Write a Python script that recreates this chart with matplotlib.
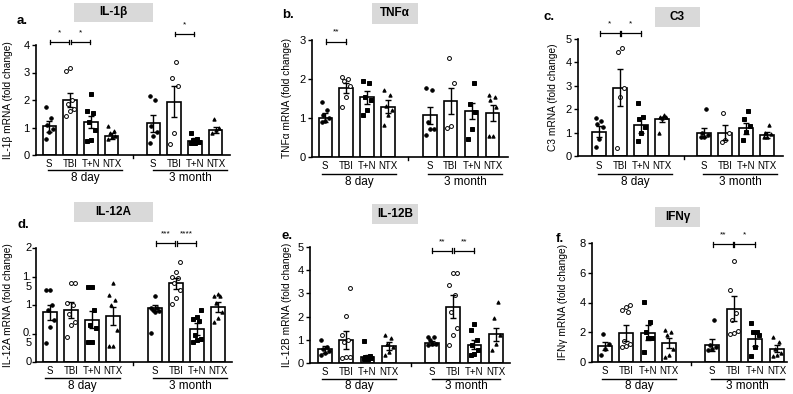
"""
qPCR panels: cytokine mRNA fold change, 8 day and 3 month.
"""

import numpy as np
import matplotlib.pyplot as plt
from matplotlib.patches import Rectangle
from matplotlib.transforms import ScaledTranslation

plt.rcParams['font.family'] = ['Liberation Sans', 'DejaVu Sans']

groups = ['S', 'TBI', 'T+N', 'NTX']
timepoints = ['8 day', '3 month']

# bar order: 8 day S, TBI, T+N, NTX, then 3 month S, TBI, T+N, NTX
il1b_mean = [1.05, 2.0, 1.2, 0.69, 1.15, 1.94, 0.52, 0.91]
il1b_sem = [0.2, 0.26, 0.22, 0.1, 0.3, 0.57, 0.09, 0.11]
il1b_pts = [[1.73, 1.33, 1.1, 0.93, 0.85, 0.57],
            [3.18, 3.05, 2.0, 1.84, 1.66, 1.6, 1.42],
            [2.22, 1.61, 1.52, 1.21, 0.91, 0.55, 0.52],
            [1.05, 0.88, 0.79, 0.69, 0.64, 0.57],
            [2.15, 2.0, 1.05, 0.85, 0.69, 0.42],
            [3.39, 2.79, 2.51, 0.81, 0.4],
            [0.81, 0.6, 0.55, 0.48, 0.45, 0.42],
            [1.31, 0.97, 0.91, 0.79]]

tnfa_mean = [1.01, 1.76, 1.53, 1.29, 1.07, 1.44, 1.18, 1.13]
tnfa_sem = [0.12, 0.13, 0.17, 0.17, 0.22, 0.34, 0.2, 0.2]
tnfa_pts = [[1.42, 1.2, 1.08, 1.0, 0.92, 0.9],
            [2.04, 2.01, 1.95, 1.82, 1.54, 1.27],
            [1.95, 1.89, 1.54, 1.46, 1.2, 1.07],
            [1.73, 1.59, 1.3, 1.2, 1.07, 0.81],
            [1.78, 1.73, 0.9, 0.73, 0.71, 0.56],
            [2.55, 1.89, 0.79, 0.75],
            [1.9, 1.37, 1.16, 0.73, 0.47],
            [1.59, 1.53, 1.46, 1.29, 0.53, 0.53]]

c3_mean = [1.04, 2.92, 1.32, 1.57, 1.0, 1.0, 1.18, 0.9]
c3_sem = [0.23, 0.78, 0.32, 0.1, 0.19, 0.32, 0.25, 0.12]
c3_pts = [[1.61, 1.51, 1.37, 1.25, 0.71, 0.4],
          [4.6, 4.45, 2.89, 2.54, 0.33],
          [2.25, 1.65, 1.57, 1.25, 0.97, 0.66],
          [1.75, 1.68, 1.65, 1.63, 0.97],
          [1.99, 1.0, 0.9, 0.83, 0.8],
          [1.85, 0.99, 0.68, 0.61],
          [1.92, 1.57, 1.28, 1.04, 0.68],
          [1.32, 0.97, 0.95, 0.83, 0.8]]

il12a_mean = [0.87, 0.91, 0.74, 0.81, 0.95, 1.38, 0.58, 0.97]
il12a_sem = [0.13, 0.14, 0.15, 0.16, 0.05, 0.1, 0.1, 0.09]
il12a_pts = [[1.26, 1.26, 1.0, 0.91, 0.74, 0.62, 0.34],
             [1.39, 1.39, 1.03, 1.0, 0.85, 0.71, 0.65, 0.44],
             [1.31, 1.31, 0.91, 0.65, 0.6, 0.35, 0.35],
             [1.38, 1.18, 1.09, 1.0, 0.56, 0.28, 0.28],
             [1.16, 0.95, 0.94, 0.91, 0.89, 0.87, 0.51],
             [1.75, 1.58, 1.5, 1.48, 1.38, 1.26, 1.13, 1.01],
             [0.92, 0.79, 0.76, 0.72, 0.47, 0.41, 0.38, 0.35],
             [1.19, 1.16, 1.16, 1.03, 0.88, 0.78, 0.71]]

il12b_mean = [0.59, 0.98, 0.26, 0.74, 0.87, 2.43, 0.79, 1.23]
il12b_sem = [0.16, 0.38, 0.1, 0.18, 0.09, 0.5, 0.18, 0.3]
il12b_pts = [[0.98, 0.69, 0.62, 0.5, 0.45, 0.36],
             [3.25, 2.04, 1.2, 0.98, 0.91, 0.26, 0.24, 0.22],
             [0.95, 0.3, 0.26, 0.22, 0.19, 0.16],
             [1.2, 1.08, 0.84, 0.69, 0.48, 0.33],
             [1.13, 1.13, 0.98, 0.84, 0.8, 0.77],
             [3.87, 3.87, 3.37, 2.93, 2.18, 1.49, 1.2, 0.79],
             [1.66, 1.42, 0.98, 0.77, 0.55, 0.4, 0.33],
             [2.62, 1.95, 1.2, 0.84, 0.55]]

ifng_mean = [1.08, 1.97, 1.97, 1.28, 1.12, 3.59, 1.52, 0.9]
ifng_sem = [0.24, 0.53, 0.5, 0.31, 0.4, 0.84, 0.42, 0.25]
ifng_pts = [[1.91, 1.23, 0.9, 0.49],
            [3.86, 3.7, 3.48, 3.36, 1.39, 1.23, 1.08, 1.01],
            [4.04, 2.69, 2.02, 1.61, 1.58, 0.67],
            [2.13, 2.02, 1.79, 0.9, 0.49, 0.34],
            [2.8, 1.12, 1.0, 0.9, 0.78],
            [6.77, 4.82, 3.32, 2.8, 2.06, 1.97, 1.91],
            [2.65, 2.02, 2.0, 1.84, 1.01, 0.4],
            [1.68, 1.35, 0.9, 0.63, 0.45, 0.42]]

# significance brackets: (bar i, bar j, height, label)
il1b_sig = [(0, 1, 4.1, '*'), (1, 2, 4.1, '*'), (5, 6, 4.39, '*')]
tnfa_sig = [(0, 1, 2.96, '**')]
c3_sig = [(0, 1, 5.24, '*'), (1, 2, 5.24, '*')]
il12a_sig = [(4, 5, 2.08, '***'), (5, 6, 2.08, '****')]
il12b_sig = [(4, 5, 4.84, '**'), (5, 6, 4.84, '**')]
ifng_sig = [(4, 5, 7.9, '**'), (5, 6, 7.9, '*')]

W, H = 793, 394
fig = plt.figure(figsize=(W / 100, H / 100), dpi=100)

# layout in pixels of the reference
panels = [
    dict(mean=il1b_mean, sem=il1b_sem, pts=il1b_pts, sig=il1b_sig,
         title='IL-1β', ylabel='IL-1β mRNA (fold change)', letter='a.',
         spine=36, right=230, y0=155, ytop=45, ymax=4, yticks=[0, 1, 2, 3, 4],
         p0=49.3, s=20.8, brk=133,
         tick_y=164, line_y=170, grp_y=178, lines=[(48, 122), (153, 227)],
         box=(74, 153, 3, 22), let_xy=(17, 21), ylab_x=8),
    dict(mean=tnfa_mean, sem=tnfa_sem, pts=tnfa_pts, sig=tnfa_sig,
         title='TNFα', ylabel='TNFα mRNA (fold change)', letter='b.',
         spine=312, right=508, y0=157, ytop=40, ymax=3, yticks=[0, 1, 2, 3],
         p0=325.3, s=20.9, brk=408,
         tick_y=166, line_y=174, grp_y=182, lines=[(322, 396), (428, 502)],
         box=(372, 418, 3, 24), let_xy=(282, 15), ylab_x=287),
    dict(mean=c3_mean, sem=c3_sem, pts=c3_pts, sig=c3_sig,
         title='C3', ylabel='C3 mRNA (fold change)', letter='c.',
         spine=578, right=783, y0=156, ytop=39, ymax=5, yticks=[0, 1, 2, 3, 4, 5],
         p0=599.3, s=21.0, brk=684,
         tick_y=166, line_y=174, grp_y=182, lines=[(598, 672), (703, 777)],
         box=(655, 700, 7, 27), let_xy=(543, 17), ylab_x=553),
    dict(mean=il12a_mean, sem=il12a_sem, pts=il12a_pts, sig=il12a_sig,
         title='IL-12A', ylabel='IL-12A mRNA (fold change)', letter='d.',
         spine=36, right=232, y0=362, ytop=248, ymax=2, yticks=[0, 0.5, 1, 1.5, 2],
         yticklabels=['0', '0.\n5', '1', '1.\n5', '2'],
         p0=50, s=21, brk=133,
         tick_y=371, line_y=378, grp_y=386, lines=[(45, 120), (153, 227)],
         box=(74, 153, 202, 222), let_xy=(17, 225), ylab_x=8),
    dict(mean=il12b_mean, sem=il12b_sem, pts=il12b_pts, sig=il12b_sig,
         title='IL-12B', ylabel='IL-12B mRNA (fold change)', letter='e.',
         spine=310, right=510, y0=363, ytop=247, ymax=5, yticks=[0, 1, 2, 3, 4, 5],
         p0=324.7, s=21.4, brk=411,
         tick_y=372, line_y=379, grp_y=386, lines=[(322, 396), (432, 500)],
         box=(372, 418, 204, 224), let_xy=(282, 236), ylab_x=287),
    dict(mean=ifng_mean, sem=ifng_sem, pts=ifng_pts, sig=ifng_sig,
         title='IFNγ', ylabel='IFNγ mRNA (fold change)', letter='f.',
         spine=592, right=787, y0=362, ytop=243, ymax=8, yticks=[0, 2, 4, 6, 8],
         p0=604.7, s=21.5, brk=691,
         tick_y=371, line_y=379, grp_y=386, lines=[(602, 676), (711, 784)],
         box=(655, 700, 207, 227), let_xy=(556, 239), ylab_x=563),
]

bar_width = 0.65
x = np.array([0, 1, 2, 3, 5, 6, 7, 8])

styles = [dict(marker='o', mfc='k', ms=2.5),
          dict(marker='o', mfc='white', ms=2.8),
          dict(marker='s', mfc='k', ms=2.3),
          dict(marker='^', mfc='k', ms=2.4)]


def spread(vals, w):
    # deterministic side-by-side placement of the dots inside a bar
    order = np.argsort(vals)
    pattern = [-0.55, 0.0, 0.55, -0.3, 0.3]
    off = np.zeros(len(vals))
    for k, idx in enumerate(order):
        off[idx] = pattern[k % len(pattern)] * w / 2
    return off


for p in panels:
    height = p['y0'] - p['ytop']
    ax = fig.add_axes([p['spine'] / W, 1 - p['y0'] / H,
                       (p['right'] - p['spine']) / W, height / H])
    ax.set_xlim((p['spine'] - p['p0']) / p['s'], (p['right'] - p['p0']) / p['s'])
    ax.set_ylim(0, p['ymax'])

    def yfrac(ypx):
        return (p['y0'] - ypx) / height

    def xdata(xpx):
        return (xpx - p['p0']) / p['s']

    ax.bar(x, p['mean'], width=bar_width, color='white', edgecolor='k',
           linewidth=1.2, zorder=2)
    for i, vals in enumerate(p['pts']):
        st = styles[i % 4]
        ax.plot(x[i] + spread(vals, bar_width), vals, ls='none', marker=st['marker'],
                mfc=st['mfc'], mec='k', mew=0.7, ms=st['ms'], zorder=3, clip_on=False)
    ax.errorbar(x, p['mean'], yerr=p['sem'], fmt='none', ecolor='k',
                elinewidth=1.0, capsize=2.5, capthick=1.0, zorder=4)

    # significance brackets
    for i, j, yv, lab in p['sig']:
        cap = p['ymax'] * 0.02
        xa, xb = x[i] + 0.03, x[j] - 0.03
        ax.plot([xa, xb], [yv, yv], color='k', lw=0.9, clip_on=False)
        for xe in (xa, xb):
            ax.plot([xe, xe], [yv - cap, yv + cap], color='k', lw=0.9, clip_on=False)
        ax.text((x[i] + x[j]) / 2, yv + p['ymax'] * 0.05, lab, ha='center',
                va='bottom', fontsize=6)

    for side in ['top', 'right']:
        ax.spines[side].set_visible(False)
    for side in ['left', 'bottom']:
        ax.spines[side].set_linewidth(1.2)
    ax.set_xticks([])
    ax.set_yticks(p['yticks'])
    ax.tick_params(axis='y', length=3, width=1.0, pad=1.5, labelsize=8)
    ax.patch.set_visible(False)

    # wrapped tick labels sit with their first line on the tick
    if 'yticklabels' in p:
        ax.set_yticklabels([''] * len(p['yticks']))
        for t, lab in zip(p['yticks'], p['yticklabels']):
            if '\n' in lab:
                shift = ScaledTranslation(-4.5 / 100, 5 / 100, fig.dpi_scale_trans)
                va = 'top'
            else:
                shift = ScaledTranslation(-4.5 / 100, 0, fig.dpi_scale_trans)
                va = 'center'
            ax.text(0, t, lab, transform=ax.get_yaxis_transform() + shift,
                    ha='right', va=va, fontsize=8, linespacing=1.0)

    # category labels, axis break tick and timepoint underlines
    xt = ax.get_xaxis_transform()
    for i in range(8):
        ax.text(x[i], yfrac(p['tick_y']), groups[i % 4], transform=xt,
                ha='center', va='center', fontsize=7)
    ax.plot([xdata(p['brk'])] * 2, [0, yfrac(p['y0'] + 3)], transform=xt,
            color='k', lw=1.0, clip_on=False)
    for (a, b), lab in zip(p['lines'], timepoints):
        ax.plot([xdata(a), xdata(b)], [yfrac(p['line_y'])] * 2, transform=xt,
                color='k', lw=1.0, clip_on=False)
        ax.text((xdata(a) + xdata(b)) / 2, yfrac(p['grp_y']), lab, transform=xt,
                ha='center', va='center', fontsize=8.5)

    # y label, title box and panel letter
    fig.text(p['ylab_x'] / W, 1 - (p['y0'] + p['ytop']) / 2 / H, p['ylabel'],
             rotation=90, ha='center', va='center', fontsize=7.3)
    bx0, bx1, by0, by1 = p['box']
    fig.add_artist(Rectangle((bx0 / W, 1 - by1 / H), (bx1 - bx0) / W, (by1 - by0) / H,
                             transform=fig.transFigure, facecolor='#d9d9d9',
                             edgecolor='none'))
    fig.text((bx0 + bx1) / 2 / W, 1 - (by0 + by1) / 2 / H, p['title'],
             ha='center', va='center', fontsize=8.5, fontweight='bold')
    fig.text(p['let_xy'][0] / W, 1 - p['let_xy'][1] / H, p['letter'],
             ha='left', va='center', fontsize=9.5, fontweight='bold')

fig.savefig('out.png', dpi=100)
